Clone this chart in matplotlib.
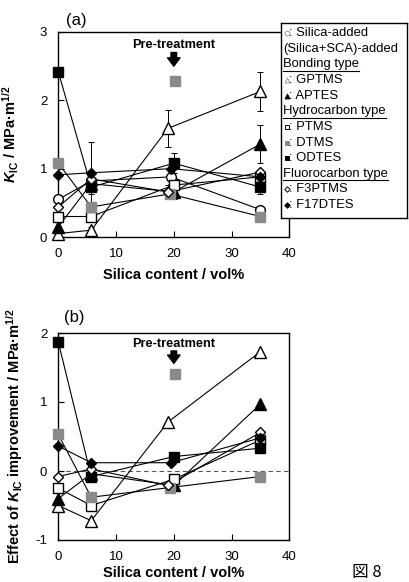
import matplotlib
matplotlib.use("Agg")
import matplotlib.pyplot as plt

plt.rcParams['font.family'] = ['Liberation Sans', 'DejaVu Sans']
plt.rcParams['mathtext.fontset'] = 'custom'
plt.rcParams['mathtext.rm'] = 'Liberation Sans:bold'
plt.rcParams['mathtext.it'] = 'Liberation Sans:italic:bold'
plt.rcParams['mathtext.bf'] = 'Liberation Sans:bold'
plt.rcParams['axes.unicode_minus'] = False

# ---------------- data ----------------
series_names = ["Silica-added", "GPTMS", "APTES", "PTMS", "DTMS", "ODTES", "F3PTMS", "F17DTES"]

x_silica = [0, 5.7, 19.5, 35]
x_gptms = [0, 5.7, 19.0, 35]
x_aptes = [0, 5.7, 20.0, 35]
x_ptms = [0, 5.7, 20.0, 35]
x_dtms = [0, 5.7, 19.3, 35]
x_odtes = [0, 5.7, 20.0, 35]
x_f3ptms = [0, 5.7, 19.0, 35]
x_f17dtes = [0, 5.7, 19.5, 35]

# panel (a): K_IC
kic_silica = [0.55, 0.82, 0.88, 0.40]
kic_gptms = [0.05, 0.10, 1.59, 2.13]
kic_aptes = [0.15, 0.78, 0.66, 1.36]
kic_ptms = [0.30, 0.30, 0.76, 0.88]
kic_dtms = [1.08, 0.44, 0.63, 0.30]
kic_odtes = [2.42, 0.73, 1.08, 0.73]
kic_f3ptms = [0.44, 0.85, 0.66, 0.95]
kic_f17dtes = [0.91, 0.94, 1.00, 0.88]

err_silica = [0.05, 0.10, 0.10, 0.06]
err_gptms = [0.0, 0.05, 0.27, 0.28]
err_aptes = [0.0, 0.0, 0.10, 0.28]
err_ptms = [0.0, 0.0, 0.10, 0.0]
err_dtms = [0.0, 0.0, 0.0, 0.0]
err_odtes = [0.0, 0.10, 0.15, 0.10]
err_f3ptms = [0.0, 0.0, 0.10, 0.0]
err_f17dtes = [0.0, 0.45, 0.15, 0.0]

# panel (b): effect of K_IC improvement
eff_gptms = [-0.50, -0.72, 0.71, 1.73]
eff_aptes = [-0.40, -0.04, -0.21, 0.97]
eff_ptms = [-0.25, -0.50, -0.12, 0.45]
eff_dtms = [0.53, -0.38, -0.24, -0.08]
eff_odtes = [1.87, -0.08, 0.21, 0.33]
eff_f3ptms = [-0.08, 0.03, -0.21, 0.56]
eff_f17dtes = [0.36, 0.12, 0.12, 0.48]

# pre-treatment point (DTMS)
x_pre = [20.2]
kic_pre = [2.28]
eff_pre = [1.41]

x_ticks = [0, 10, 20, 30, 40]
a_yticks = [0, 1, 2, 3]
b_yticks = [-1, 0, 1, 2]

GRAY = '#8a8a8a'
styles = {
    "Silica-added": dict(marker='o', mfc='white', mec='black', ms=7),
    "GPTMS": dict(marker='^', mfc='white', mec='black', ms=8),
    "APTES": dict(marker='^', mfc='black', mec='black', ms=8),
    "PTMS": dict(marker='s', mfc='white', mec='black', ms=7),
    "DTMS": dict(marker='s', mfc=GRAY, mec=GRAY, ms=7),
    "ODTES": dict(marker='s', mfc='black', mec='black', ms=7),
    "F3PTMS": dict(marker='D', mfc='white', mec='black', ms=5.5),
    "F17DTES": dict(marker='D', mfc='black', mec='black', ms=5.5),
}

W, H = 409, 582
fig = plt.figure(figsize=(W / 100, H / 100), dpi=100)


def px_axes(left, top, right, bottom):
    return [left / W, 1 - bottom / H, (right - left) / W, (bottom - top) / H]


axA = fig.add_axes(px_axes(58.3, 32, 289.3, 237))
axB = fig.add_axes(px_axes(58.3, 333, 289.3, 540))

a_data = [
    ("Silica-added", x_silica, kic_silica, err_silica),
    ("GPTMS", x_gptms, kic_gptms, err_gptms),
    ("APTES", x_aptes, kic_aptes, err_aptes),
    ("PTMS", x_ptms, kic_ptms, err_ptms),
    ("DTMS", x_dtms, kic_dtms, err_dtms),
    ("ODTES", x_odtes, kic_odtes, err_odtes),
    ("F3PTMS", x_f3ptms, kic_f3ptms, err_f3ptms),
    ("F17DTES", x_f17dtes, kic_f17dtes, err_f17dtes),
]
b_data = [
    ("GPTMS", x_gptms, eff_gptms),
    ("APTES", x_aptes, eff_aptes),
    ("PTMS", x_ptms, eff_ptms),
    ("DTMS", x_dtms, eff_dtms),
    ("ODTES", x_odtes, eff_odtes),
    ("F3PTMS", x_f3ptms, eff_f3ptms),
    ("F17DTES", x_f17dtes, eff_f17dtes),
]

for name, xs, ys, es in a_data:
    axA.errorbar(xs, ys, yerr=es, fmt='none', ecolor='black', elinewidth=0.7,
                 capsize=2, capthick=0.7, zorder=1.5)
    axA.plot(xs, ys, '-', color='black', lw=0.8, zorder=2)
for name, xs, ys, es in a_data:
    st = styles[name]
    axA.plot(xs, ys, ls='none', marker=st['marker'], mfc=st['mfc'], mec=st['mec'],
             ms=st['ms'], mew=1.0, zorder=3, clip_on=False)
axA.plot(x_pre, kic_pre, ls='none', marker='s', mfc=GRAY, mec=GRAY, ms=7, zorder=3)

for name, xs, ys in b_data:
    axB.plot(xs, ys, '-', color='black', lw=0.8, zorder=2)
for name, xs, ys in b_data:
    st = styles[name]
    axB.plot(xs, ys, ls='none', marker=st['marker'], mfc=st['mfc'], mec=st['mec'],
             ms=st['ms'], mew=1.0, zorder=3, clip_on=False)
axB.plot(x_pre, eff_pre, ls='none', marker='s', mfc=GRAY, mec=GRAY, ms=7, zorder=3)
axB.axhline(0, color='#555555', lw=0.8, ls=(0, (4, 3)), zorder=1)

for ax, yt, ylim in [(axA, a_yticks, (0, 3)), (axB, b_yticks, (-1, 2))]:
    ax.set_xlim(0, 40)
    ax.set_ylim(*ylim)
    ax.set_xticks(x_ticks)
    ax.set_yticks(yt)
    ax.tick_params(direction='in', length=4, width=0.8, labelsize=9.5, pad=8)
    for s in ax.spines.values():
        s.set_linewidth(1.0)
    ax.set_xlabel("Silica content / vol%", fontsize=10.5, fontweight='bold', labelpad=6)

axA.set_ylabel(r"$K_{\rm IC}$ / MPa·m$^{1/2}$", fontsize=10.5, fontweight='bold')
axB.set_ylabel(r"Effect of $K_{\rm IC}$ improvement / MPa·m$^{1/2}$", fontsize=10.5,
               fontweight='bold')
axA.yaxis.set_label_coords(-0.16, 0.5)
axB.yaxis.set_label_coords(-0.145, 0.5)
axB.xaxis.set_label_coords(0.5, -0.128)

# Pre-treatment annotations
axA.text(20, 2.81, "Pre-treatment", ha='center', va='center', fontsize=9.2, fontweight='bold')
axA.annotate('', xy=(20, 2.50), xytext=(20, 2.70),
             arrowprops=dict(arrowstyle='simple,head_width=0.9,head_length=0.6,tail_width=0.4',
                             color='black', mutation_scale=10, shrinkA=0, shrinkB=0))
axB.text(20, 1.84, "Pre-treatment", ha='center', va='center', fontsize=9.2, fontweight='bold')
axB.annotate('', xy=(20, 1.56), xytext=(20, 1.74),
             arrowprops=dict(arrowstyle='simple,head_width=0.9,head_length=0.6,tail_width=0.4',
                             color='black', mutation_scale=10, shrinkA=0, shrinkB=0))

fig.text(76 / W, 1 - 20 / H, "(a)", ha='center', va='center', fontsize=12)
fig.text(74 / W, 1 - 318 / H, "(b)", ha='center', va='center', fontsize=12)

# ---------------- legend box ----------------
lx0, ly0, lx1, ly1 = 280.7, 22.7, 406.7, 218
lax = fig.add_axes(px_axes(lx0, ly0, lx1, ly1))
lax.set_xlim(0, lx1 - lx0)
lax.set_ylim(ly1 - ly0, 0)
lax.set_xticks([])
lax.set_yticks([])
lax.set_facecolor('white')
lax.set_zorder(10)
for s in lax.spines.values():
    s.set_linewidth(1.0)

leg_entries = [
    ("sym", "Silica-added", dict(marker='o', mfc='white', mec='#999999', ms=3.5)),
    ("text", "(Silica+SCA)-added", None),
    ("head", "Bonding type", None),
    ("sym", "GPTMS", dict(marker='^', mfc='white', mec='#999999', ms=3.5)),
    ("sym", "APTES", dict(marker='^', mfc='black', mec='black', ms=3.5)),
    ("head", "Hydrocarbon type", None),
    ("sym", "PTMS", dict(marker='s', mfc='white', mec='black', ms=3.2)),
    ("sym", "DTMS", dict(marker='s', mfc=GRAY, mec=GRAY, ms=3.2)),
    ("sym", "ODTES", dict(marker='s', mfc='black', mec='black', ms=3.2)),
    ("head", "Fluorocarbon type", None),
    ("sym", "F3PTMS", dict(marker='D', mfc='white', mec='black', ms=2.8)),
    ("sym", "F17DTES", dict(marker='D', mfc='black', mec='black', ms=2.8)),
]
fs_leg = 9.4
heads = []
for i, (kind, label, st) in enumerate(leg_entries):
    yy = 10.6 + 15.6 * i
    if kind == "sym":
        lax.plot([5.8], [yy], ls='none', marker=st['marker'], mfc=st['mfc'],
                 mec=st['mec'], ms=st['ms'], mew=0.7, clip_on=False)
        lax.text(8.3, yy, ": " + label, ha='left', va='center', fontsize=fs_leg)
    else:
        t = lax.text(2.3, yy, label, ha='left', va='center', fontsize=fs_leg)
        if kind == "head":
            heads.append((t, yy))

fig.canvas.draw()
renderer = fig.canvas.get_renderer()
inv = lax.transData.inverted()
for t, yy in heads:
    bb = t.get_window_extent(renderer)
    (xa, _), (xb, _) = inv.transform([(bb.x0, bb.y0), (bb.x1, bb.y0)])
    lax.plot([xa, xb], [yy + 6.3, yy + 6.3], color='black', lw=0.8)

# figure number at bottom right
fig.text(352 / W, 1 - 581 / H, "図 8", ha='left', va='bottom', fontsize=12,
         family=['Noto Sans CJK JP', 'DejaVu Sans'])

fig.savefig("out.png", dpi=100)
